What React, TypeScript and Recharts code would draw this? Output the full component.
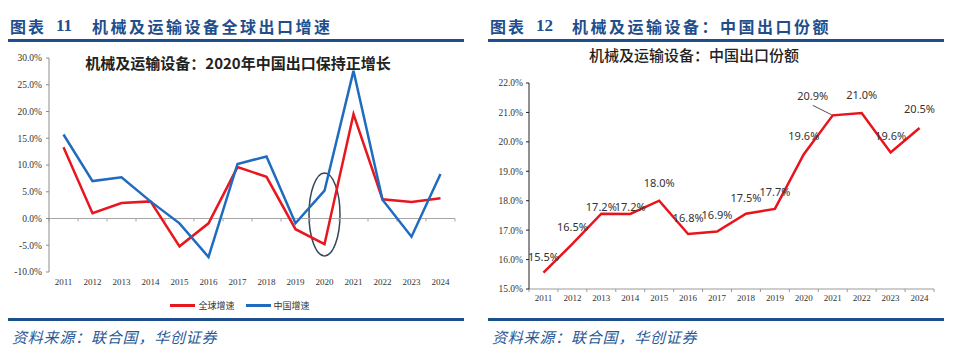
import React from 'react';
import { LineChart, Line, XAxis, YAxis, ReferenceLine, ReferenceArea, LabelList, Legend } from 'recharts';

// ---------- data ----------
const years = ['2011', '2012', '2013', '2014', '2015', '2016', '2017', '2018', '2019', '2020', '2021', '2022', '2023', '2024'];
const globalGrowth = [13.3, 1.0, 2.9, 3.2, -5.2, -0.9, 9.6, 7.8, -2.0, -4.8, 19.5, 3.6, 3.1, 3.8];
const chinaGrowth = [15.7, 7.0, 7.7, 3.2, -0.9, -7.2, 10.2, 11.6, -0.9, 5.2, 27.6, 3.5, -3.4, 8.3];
const growthTicks = [-10, -5, 0, 5, 10, 15, 20, 25, 30];
const highlightYear = '2020';
const highlightRange = [-7.0, 8.5];

const shareValues = [15.56, 16.53, 17.56, 17.55, 18.0, 16.87, 16.95, 17.56, 17.72, 19.58, 20.9, 20.98, 19.64, 20.47];
const shareLabelValues = [15.5, 16.5, 17.2, 17.2, 18.0, 16.8, 16.9, 17.5, 17.7, 19.6, 20.9, 21.0, 19.6, 20.5];
const shareLabels = ['15.5%', '16.5%', '17.2%', '17.2%', '18.0%', '16.8%', '16.9%', '17.5%', '17.7%', '19.6%', '20.9%', '21.0%', '19.6%', '20.5%'];
const shareTicks = [15, 16, 17, 18, 19, 20, 21, 22];
const leaderYear = '2021';

const seriesNames = { global: '全球增速', china: '中国增速' };
const leftHeader = { tag: '图表', num: '11', title: '机械及运输设备全球出口增速' };
const rightHeader = { tag: '图表', num: '12', title: '机械及运输设备：中国出口份额' };
const leftChartTitle = ['机械及运输设备：', '2020', '年中国出口保持正增长'];
const rightChartTitle = '机械及运输设备：中国出口份额';
const sourceText = '资料来源：联合国，华创证券';

// ---------- styles ----------
const RED = '#e8161e';
const BLUE = '#1f6bbf';
const NAVY = '#1f4e8c';
const CJK = '"Noto Sans CJK SC", "Noto Sans", sans-serif';
const SERIF = '"Liberation Serif", "DejaVu Serif", serif';

const growthData = years.map((year, i) => ({ year, global: globalGrowth[i], china: chinaGrowth[i] }));
const shareData = years.map((year, i) => ({
  year,
  share: shareValues[i],
  labelPos: shareLabelValues[i],
  label: shareLabels[i],
}));

const pct = (v: number) => `${v.toFixed(1)}%`;

const boundaryAxis = (count: number, color: string) => (p: any) => {
  const { x1, x2, y1 } = p;
  const step = (x2 - x1) / count;
  const ticks = [];
  for (let i = 0; i <= count; i++) {
    const x = x1 + i * step;
    ticks.push(<line key={i} x1={x} x2={x} y1={y1} y2={y1 + 3} stroke={color} strokeWidth={1} />);
  }
  return (
    <g>
      <line x1={x1} x2={x2} y1={y1} y2={y1} stroke={color} strokeWidth={1} />
      {ticks}
    </g>
  );
};

const ellipseShape = (p: any) => (
  <ellipse
    cx={p.x + p.width / 2}
    cy={p.y + p.height / 2}
    rx={p.width / 2 + 1}
    ry={p.height / 2}
    fill="none"
    stroke="#34465a"
    strokeWidth={1.5}
  />
);

const shareLabel = (p: any) => {
  const { x, y, value, index } = p;
  const tStyle = { fontSize: 11, fill: '#333', fontFamily: '"Noto Sans", sans-serif' } as any;
  if (years[index] === leaderYear) {
    return (
      <g>
        <line x1={x - 20} y1={y - 10} x2={x - 1} y2={y - 0.5} stroke="#222" strokeWidth={0.8} />
        <text x={x - 20} y={y - 19} dy="0.35em" textAnchor="middle" style={tStyle}>{value}</text>
      </g>
    );
  }
  return (
    <text x={x} y={y - 17.5} dy="0.35em" textAnchor="middle" style={tStyle}>{value}</text>
  );
};

const legendContent = () => (
  <div style={{ display: 'flex', justifyContent: 'center', alignItems: 'center', fontFamily: CJK, fontSize: 9, color: '#333' }}>
    <span style={{ display: 'inline-block', width: 25, height: 3, background: RED, marginRight: 3 }} />
    <span style={{ marginRight: 11 }}>{seriesNames.global}</span>
    <span style={{ display: 'inline-block', width: 25, height: 3, background: BLUE, marginRight: 3 }} />
    <span>{seriesNames.china}</span>
  </div>
);

const Header = ({ left, h }: { left: number; h: typeof leftHeader }) => (
  <div style={{ position: 'absolute', left, top: 0, width: 480, height: 44 }}>
    <div style={{ position: 'absolute', left: 2, top: 15, fontFamily: CJK, fontWeight: 700, fontSize: 16, color: NAVY, letterSpacing: 2, lineHeight: '22px', whiteSpace: 'nowrap' }}>{h.tag}</div>
    <div style={{ position: 'absolute', left: 48, top: 15, fontFamily: SERIF, fontWeight: 700, fontSize: 17, color: NAVY, lineHeight: '22px' }}>{h.num}</div>
    <div style={{ position: 'absolute', left: 84, top: 15, fontFamily: CJK, fontWeight: 700, fontSize: 16, color: NAVY, letterSpacing: 2.5, lineHeight: '22px', whiteSpace: 'nowrap' }}>{h.title}</div>
    <div style={{ position: 'absolute', left: 0, top: 39, width: 456, height: 2.5, background: NAVY }} />
  </div>
);

const Footer = ({ left }: { left: number }) => (
  <div style={{ position: 'absolute', left, top: 317, width: 480, height: 37 }}>
    <div style={{ position: 'absolute', left: 0, top: 1, width: 456, height: 2.5, background: NAVY }} />
    <div style={{ position: 'absolute', left: 4, top: 10, fontFamily: CJK, fontStyle: 'italic', fontSize: 15, color: '#2a5896', letterSpacing: 0.8, lineHeight: '20px', whiteSpace: 'nowrap' }}>{sourceText}</div>
  </div>
);

export default function App() {
  return (
    <div style={{ position: 'absolute', left: 0, top: 0, width: 960, height: 354, background: '#fff', overflow: 'hidden' }}>
      <Header left={8} h={leftHeader} />
      <Header left={488} h={rightHeader} />

      {/* left chart */}
      <div style={{ position: 'absolute', left: 0, top: 0, width: 480, height: 316 }}>
        <div style={{ position: 'absolute', left: 0, top: 53, width: 476, textAlign: 'center', fontFamily: CJK, fontWeight: 700, fontSize: 15, color: '#222', lineHeight: '20px', whiteSpace: 'nowrap', zIndex: 2 }}>
          {leftChartTitle[0]}<span>{leftChartTitle[1]}</span>{leftChartTitle[2]}
        </div>
        <LineChart width={470} height={316} data={growthData} margin={{ top: 58, right: 15, bottom: 29, left: 0 }}>
          <XAxis dataKey="year" scale="band" axisLine={false} tickLine={false} tickSize={0} tickMargin={7} height={15} interval={0}
            tick={{ fontSize: 9, fill: '#333', fontFamily: SERIF }} />
          <YAxis domain={[-10, 30]} ticks={growthTicks} tickFormatter={pct} width={49} interval={0}
            axisLine={{ stroke: '#8c8c8c' }} tickLine={{ stroke: '#8c8c8c' }} tickSize={3} tickMargin={4}
            tick={{ fontSize: 9.5, fill: '#333', fontFamily: SERIF }} />
          <ReferenceLine y={0} stroke="#a6a6a6" shape={boundaryAxis(years.length, '#a6a6a6')} />
          <Line type="linear" dataKey="global" name={seriesNames.global} stroke={RED} strokeWidth={2.5} dot={false} activeDot={false} isAnimationActive={false} />
          <Line type="linear" dataKey="china" name={seriesNames.china} stroke={BLUE} strokeWidth={2.5} dot={false} activeDot={false} isAnimationActive={false} />
          <ReferenceArea x1={highlightYear} x2={highlightYear} y1={highlightRange[0]} y2={highlightRange[1]} shape={ellipseShape} />
          <Legend layout="horizontal" verticalAlign="middle" align="center" content={legendContent}
            wrapperStyle={{ position: 'absolute', top: 299, left: 0, width: 480, height: 12 }} />
        </LineChart>
      </div>

      {/* right chart */}
      <div style={{ position: 'absolute', left: 480, top: 0, width: 480, height: 316 }}>
        <div style={{ position: 'absolute', left: 0, top: 45, width: 428, textAlign: 'center', fontFamily: CJK, fontWeight: 500, fontSize: 15, color: '#222', lineHeight: '20px', whiteSpace: 'nowrap' }}>
          {rightChartTitle}
        </div>
        <LineChart width={470} height={316} data={shareData} margin={{ top: 83, right: 16, bottom: 15, left: 0 }}>
          <XAxis dataKey="year" scale="band" axisLine={false} tickLine={false} tickSize={0} tickMargin={5.5} height={12} interval={0}
            tick={{ fontSize: 9, fill: '#333', fontFamily: SERIF }} />
          <YAxis domain={[15, 22]} ticks={shareTicks} tickFormatter={pct} width={49} interval={0}
            axisLine={{ stroke: '#222' }} tickLine={{ stroke: '#222' }} tickSize={3} tickMargin={3}
            tick={{ fontSize: 9.5, fill: '#333', fontFamily: SERIF }} />
          <ReferenceLine y={15} stroke="#9a9a9a" shape={boundaryAxis(years.length, '#9a9a9a')} />
          <Line type="linear" dataKey="share" stroke="#e8141c" strokeWidth={2.5} dot={false} activeDot={false} isAnimationActive={false} />
          <Line type="linear" dataKey="labelPos" stroke="none" dot={false} activeDot={false} legendType="none" isAnimationActive={false}>
            <LabelList dataKey="label" content={shareLabel} />
          </Line>
        </LineChart>
      </div>

      <Footer left={8} />
      <Footer left={488} />
    </div>
  );
}
